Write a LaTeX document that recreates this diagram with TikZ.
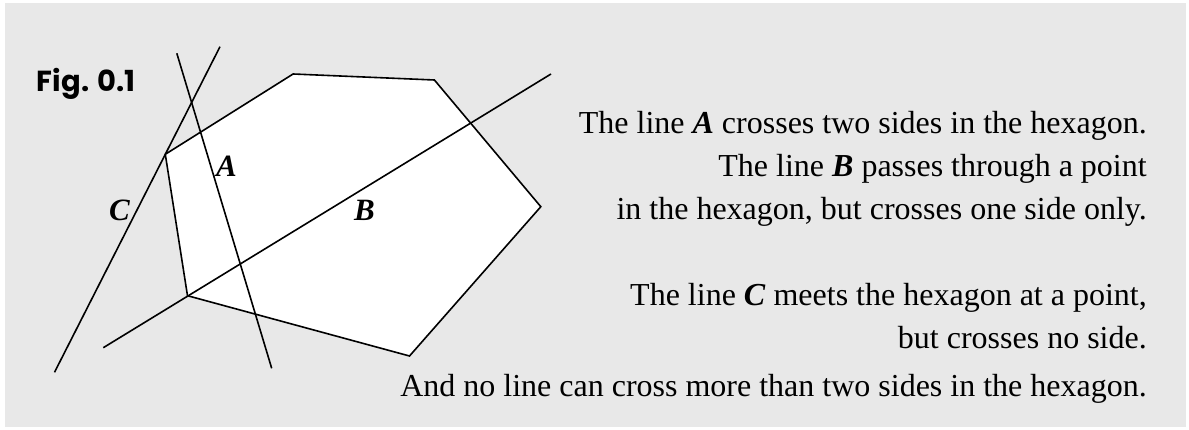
\documentclass[tikz,border=0pt]{standalone}
\usepackage{fontspec}
\setmainfont{Liberation Serif}
\newfontfamily\figfont{Poppins}
\usepackage{xcolor}
\usepackage{tikz}
\usetikzlibrary{positioning}
\definecolor{PanelGray}{HTML}{E8E8E8}

\begin{document}
\begin{tikzpicture}[
  x=1pt, y=-1pt,
  edgeline/.style={draw=black, line width=1.6pt, line join=miter},
  letterlabel/.style={font=\fontsize{31}{36}\selectfont\bfseries\itshape, inner sep=0pt, anchor=base west},
  textline/.style={font=\fontsize{32}{38}\selectfont, inner sep=0pt, anchor=base east},
  figlabel/.style={font=\fontsize{29}{34}\selectfont\figfont\bfseries, inner sep=0pt, anchor=base west}
]
\useasboundingbox (0,0) rectangle (1189,430);
\fill[PanelGray] (5,3) rectangle (1186,427);
% hexagon
\coordinate (v1) at (165.3,154.3);
\coordinate (v2) at (293.1,74);
\coordinate (v3) at (434.4,80);
\coordinate (v4) at (540.8,206.7);
\coordinate (v5) at (409.5,356);
\coordinate (v6) at (187.5,295.7);
\filldraw[edgeline, fill=white] (v1) -- (v2) -- (v3) -- (v4) -- (v5) -- (v6) -- cycle;
% the three lines
\coordinate (aTop) at (176.8,53.3);
\coordinate (aEnd) at (271.7,368.3);
\coordinate (bTop) at (551,74);
\coordinate (bEnd) at (103.3,347.7);
\coordinate (cTop) at (220,46.7);
\coordinate (cEnd) at (54.5,372.3);
\draw[edgeline] (aTop) -- (aEnd);
\draw[edgeline] (bTop) -- (bEnd);
\draw[edgeline] (cTop) -- (cEnd);
\node[letterlabel] (labA) at (216,177) {A};
\node[letterlabel] (labB) at (354,221) {B};
\node[letterlabel] (labC) at (109,221) {C};
\node[figlabel] (fig) at (36.7,91.7) {Fig. 0.1};
% text on the right
\node[textline] (line1) at (1147,133.3) {The line \textbf{\textit{A}} crosses two sides in the hexagon.};
\node[textline] (line2) at (1147,176.7) {The line \textbf{\textit{B}} passes through a point};
\node[textline] (line3) at (1147,219.3) {in the hexagon, but crosses one side only.};
\node[textline] (line4) at (1147,306) {The line \textbf{\textit{C}} meets the hexagon at a point,};
\node[textline] (line5) at (1147,348.3) {but crosses no side.};
\node[textline] (line6) at (1147,396) {And no line can cross more than two sides in the hexagon.};
\end{tikzpicture}
\end{document}
